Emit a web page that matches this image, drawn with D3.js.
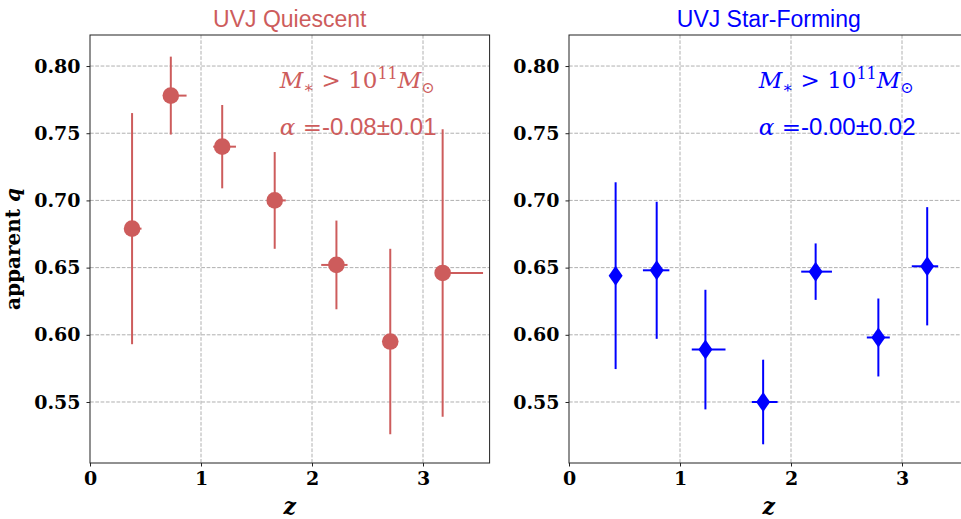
<!DOCTYPE html>
<html>
<head>
<meta charset="utf-8">
<script src="https://cdn.jsdelivr.net/npm/d3@7"></script>
<style>
  body { margin: 0; background: #fff; }
  svg { display: block; }
</style>
</head>
<body>
<div id="chart"></div>
<script>
// UVJ quiescent (red circles)
const zQ = [0.379, 0.728, 1.191, 1.664, 2.220, 2.705, 3.177];
const qQ = [0.679, 0.778, 0.740, 0.700, 0.652, 0.595, 0.646];
const qErrQ = [0.086, 0.029, 0.031, 0.036, 0.033, 0.069, 0.107];
const zLoQ = [0.03, 0.03, 0.081, 0.03, 0.137, 0.03, 0.03];
const zHiQ = [0.085, 0.142, 0.124, 0.10, 0.10, 0.05, 0.364];

// UVJ star-forming (blue diamonds)
const zSF = [0.420, 0.790, 1.229, 1.749, 2.222, 2.787, 3.227];
const qSF = [0.644, 0.648, 0.589, 0.550, 0.647, 0.598, 0.651];
const qErrSF = [0.0695, 0.051, 0.0445, 0.0315, 0.021, 0.029, 0.044];
const zLoSF = [0.03, 0.124, 0.123, 0.102, 0.13, 0.104, 0.139];
const zHiSF = [0.03, 0.114, 0.181, 0.13, 0.147, 0.103, 0.099];

const yTicks = [0.55, 0.60, 0.65, 0.70, 0.75, 0.80];
const xTicks = [0, 1, 2, 3];

const panels = [
  { title: "UVJ Quiescent", color: "#cd5c5c", marker: "circle", alpha: "-0.08\u00b10.01",
    z: zQ, q: qQ, qErr: qErrQ, zLo: zLoQ, zHi: zHiQ, left: 90 },
  { title: "UVJ Star-Forming", color: "#0000ff", marker: "diamond", alpha: "-0.00\u00b10.02",
    z: zSF, q: qSF, qErr: qErrSF, zLo: zLoSF, zHi: zHiSF, left: 569 }
];

const W = 961, H = 519;
const plotTop = 35, plotBottom = 463, pw = 399.6;

const svg = d3.select("#chart").append("svg")
  .attr("width", W)
  .attr("height", H);

const y = d3.scaleLinear().domain([0.5046, 0.8231]).range([plotBottom, plotTop]);

panels.forEach((p, pi) => {
  const x = d3.scaleLinear().domain([0, 3.6]).range([0, pw]);
  const g = svg.append("g").attr("transform", `translate(${p.left},0)`);

  // grid
  g.selectAll(".gx").data(xTicks.slice(1)).enter().append("line")
    .attr("x1", d => x(d)).attr("x2", d => x(d))
    .attr("y1", plotTop).attr("y2", plotBottom)
    .attr("stroke", "#b0b0b0").attr("stroke-width", 1).attr("stroke-dasharray", "3.7,1.6");
  g.selectAll(".gy").data(yTicks).enter().append("line")
    .attr("x1", 0).attr("x2", pw)
    .attr("y1", d => y(d)).attr("y2", d => y(d))
    .attr("stroke", "#b0b0b0").attr("stroke-width", 1).attr("stroke-dasharray", "3.7,1.6");

  // axes
  const xAxis = g.append("g")
    .attr("transform", `translate(0,${plotBottom})`)
    .call(d3.axisBottom(x).tickValues(xTicks).tickFormat(d3.format("d")).tickSizeOuter(0).tickSize(3.5).tickPadding(5));
  const yAxis = g.append("g")
    .call(d3.axisLeft(y).tickValues(yTicks).tickFormat(d3.format(".2f")).tickSizeOuter(0).tickSize(3.5).tickPadding(6));
  [xAxis, yAxis].forEach(a => {
    a.select(".domain").remove();
    a.selectAll("line").attr("stroke", "#222").attr("stroke-width", 1);
    a.selectAll("text")
      .attr("fill", "#000")
      .style("font-family", "'DejaVu Serif', serif")
      .style("font-weight", "bold")
      .style("font-size", "19px");
  });

  // frame
  g.append("rect")
    .attr("x", 0).attr("y", plotTop).attr("width", pw).attr("height", plotBottom - plotTop)
    .attr("fill", "none").attr("stroke", "#222").attr("stroke-width", 1);

  const data = p.z.map((z, i) => ({ z, q: p.q[i], e: p.qErr[i], lo: p.zLo[i], hi: p.zHi[i] }));

  // error bars
  g.selectAll(".ey").data(data).enter().append("line")
    .attr("x1", d => x(d.z)).attr("x2", d => x(d.z))
    .attr("y1", d => y(d.q - d.e)).attr("y2", d => y(d.q + d.e))
    .attr("stroke", p.color).attr("stroke-width", 2);
  g.selectAll(".ex").data(data).enter().append("line")
    .attr("x1", d => x(d.z - d.lo)).attr("x2", d => x(d.z + d.hi))
    .attr("y1", d => y(d.q)).attr("y2", d => y(d.q))
    .attr("stroke", p.color).attr("stroke-width", 2);

  // markers
  if (p.marker === "circle") {
    g.selectAll(".m").data(data).enter().append("circle")
      .attr("cx", d => x(d.z)).attr("cy", d => y(d.q)).attr("r", 8.3)
      .attr("fill", p.color);
  } else {
    g.selectAll(".m").data(data).enter().append("path")
      .attr("d", "M0,-10L7,0L0,10L-7,0Z")
      .attr("transform", d => `translate(${x(d.z)},${y(d.q)})`)
      .attr("fill", p.color);
  }

  // title
  g.append("text")
    .attr("x", pw / 2).attr("y", 26.5)
    .attr("text-anchor", "middle")
    .attr("fill", p.color)
    .style("font-family", "'Liberation Sans', Arial, sans-serif")
    .style("font-size", "23px")
    .text(p.title);

  // annotations
  const mt = g.append("text")
    .attr("x", x(1.71)).attr("y", 88)
    .attr("fill", p.color)
    .style("font-family", "'DejaVu Serif', serif")
    .style("font-size", "23px");
  mt.append("tspan").style("font-style", "italic").text("M");
  mt.append("tspan").attr("dy", 5).style("font-size", "16px").text("\u2217");
  mt.append("tspan").attr("dy", -5).text(" > 10");
  mt.append("tspan").attr("dy", -9).style("font-size", "16px").text("11");
  mt.append("tspan").attr("dy", 9).style("font-style", "italic").text("M");
  mt.append("tspan").attr("dy", 5).style("font-size", "16px").text("\u2299");

  const at = g.append("text")
    .attr("x", x(1.71)).attr("y", 135)
    .attr("fill", p.color)
    .style("font-family", "'DejaVu Serif', serif")
    .style("font-size", "23px");
  at.append("tspan").style("font-style", "italic").text("\u03b1");
  at.append("tspan").text(" =");
  at.append("tspan")
    .style("font-family", "'Liberation Sans', Arial, sans-serif")
    .style("font-size", "24px")
    .text(p.alpha);

  // x label
  g.append("text")
    .attr("x", pw / 2).attr("y", 514)
    .attr("text-anchor", "middle")
    .style("font-family", "'DejaVu Serif', serif")
    .style("font-style", "italic")
    .style("font-weight", "bold")
    .style("font-size", "22px")
    .text("z");

  if (pi === 0) {
    const yl = g.append("text")
      .attr("transform", `translate(-70,${(plotTop + plotBottom) / 2}) rotate(-90)`)
      .attr("text-anchor", "middle")
      .style("font-family", "'DejaVu Serif', serif")
      .style("font-weight", "bold")
      .style("font-size", "20px");
    yl.append("tspan").text("apparent ");
    yl.append("tspan").style("font-style", "italic").text("q");
  }
});
</script>
</body>
</html>
